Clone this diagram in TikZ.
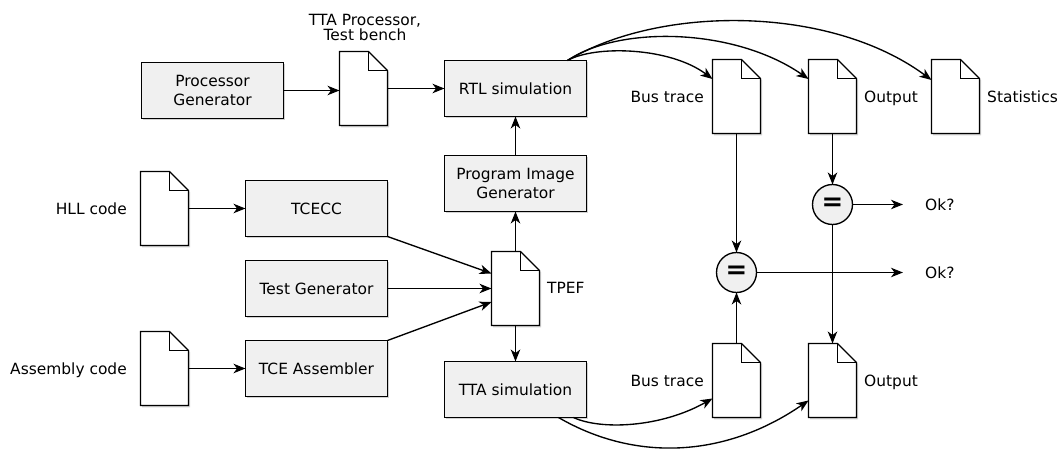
\documentclass[tikz,border=0pt]{standalone}
\usepackage{fontspec}
\setmainfont{DejaVu Sans}
\usetikzlibrary{arrows.meta,shadows}

\definecolor{boxgray}{HTML}{F0F0F0}

% a page with a folded corner, drawn around an empty node
\newcommand\docpage[3]{%
  \node[docframe] (#1) at (#2,#3) {};
  \draw[docline] (#1.north west) -- ([xshift=-19bp]#1.north east)
    -- ([yshift=-19bp]#1.north east) -- (#1.south east)
    -- (#1.south west) -- cycle;
  \draw[line] ([xshift=-19bp]#1.north east) |- ([yshift=-19bp]#1.north east);
}

\begin{document}
\begin{tikzpicture}[x=1bp,y=-1bp,
  every node/.style={font=\fontsize{15.5}{18.5}\selectfont},
  line/.style={line width=1.35bp, line join=miter},
  arr/.style={line, -{Stealth[length=12bp,width=9.5bp,inset=3.5bp]}},
  softshadow/.style={drop shadow={shadow xshift=1.6bp, shadow yshift=-1.8bp,
      opacity=0.25, fill=black!70}},
  procbox/.style={draw, line width=1.35bp, fill=boxgray, minimum width=142bp,
      minimum height=56bp, inner sep=0pt, outer sep=0pt, align=center, softshadow},
  docframe/.style={minimum width=48bp, minimum height=74bp, inner sep=0pt, outer sep=0pt},
  docline/.style={line, fill=white, softshadow},
  cmp/.style={circle, draw, line width=1.35bp, fill=boxgray, minimum size=40bp,
      inner sep=0pt, outer sep=0pt, font=\fontsize{26}{26}\selectfont\bfseries},
  lbl/.style={inner sep=0pt, text height=11.5pt, text depth=0pt}
]
\useasboundingbox (0,0) rectangle (1059,450);

% processing steps
\node[procbox] (procgen) at (212.5,90.5)  {Processor\\Generator};
\node[procbox] (rtl)     at (515.5,88.5)  {RTL simulation};
\node[procbox] (pig)     at (515.5,183.5) {Program Image\\Generator};
\node[procbox] (tcecc)   at (316.5,208.5) {TCECC};
\node[procbox] (testgen) at (316.5,288.5) {Test Generator};
\node[procbox] (tceasm)  at (316.5,368.5) {TCE Assembler};
\node[procbox] (ttasim)  at (515.5,389.5) {TTA simulation};

% files
\docpage{ttadoc}{363.5}{88.5}
\docpage{hll}{164.5}{208.5}
\docpage{asm}{164.5}{368.5}
\docpage{tpef}{515.5}{288.5}
\docpage{bus1}{736.5}{96.5}
\docpage{out1}{832.5}{96.5}
\docpage{stats}{955.5}{96.5}
\docpage{bus2}{736.5}{380.5}
\docpage{out2}{832.5}{380.5}

% comparators
\node[cmp] (eq1) at (832.5,204.5) {=};
\node[cmp] (eq2) at (736.5,272.5) {=};

% labels
\node[inner sep=0pt, align=center, font=\fontsize{15.5}{13.5}\selectfont]
  (lbltta) at (365,27.5) {TTA Processor,\\Test bench};
\node[lbl, anchor=east] (lblhll)  at (127,209) {HLL code};
\node[lbl, anchor=east] (lblasm)  at (127,369) {Assembly code};
\node[lbl, anchor=west] (lbltpef) at (547,288) {TPEF};
\node[lbl, anchor=east] (lblbus1) at (704,97) {Bus trace};
\node[lbl, anchor=west] (lblout1) at (864,97) {Output};
\node[lbl, anchor=west] (lblstat) at (987,97) {Statistics};
\node[lbl, anchor=east] (lblbus2) at (704,381) {Bus trace};
\node[lbl, anchor=west] (lblout2) at (864,381) {Output};
\node[lbl, anchor=west] (ok1) at (925,204.5) {Ok?};
\node[lbl, anchor=west] (ok2) at (925,272.5) {Ok?};

% straight connectors
\draw[arr] (procgen.east) -- (ttadoc.west |- procgen.east);
\draw[arr] (ttadoc.east |- rtl.west) -- (rtl.west);
\draw[arr] (hll.east) -- (tcecc.west |- hll.east);
\draw[arr] (asm.east) -- (tceasm.west |- asm.east);
\draw[arr] (tcecc.south east) -- ([yshift=15bp]tpef.west);
\draw[arr] (testgen.east) -- (tpef.west);
\draw[arr] (tceasm.north east) -- ([yshift=-13.5bp]tpef.west);
\draw[arr] (tpef.north) -- (pig.south);
\draw[arr] (pig.north) -- (rtl.south);
\draw[arr] (tpef.south) -- (ttasim.north);
\draw[arr] (bus1.south) -- (eq2.north);
\draw[arr] (bus2.north) -- (eq2.south);
\draw[arr] (out1.south) -- (eq1.north);
\draw[arr] (eq1.south) -- (out2.north);
\draw[arr] (eq1.east) -- ([xshift=-22bp]ok1.west);
\draw[arr] (eq2.east) -- ([xshift=-22bp]ok2.west);

% curved connectors out of the simulators
\coordinate (rtlout) at ([xshift=-19bp]rtl.north east);
\draw[arr] (rtlout) .. controls (595,45) and (670,47) .. ([yshift=17.5bp]bus1.west);
\draw[arr] (rtlout) .. controls (620,25) and (735,28) .. ([yshift=17.5bp]out1.west);
\draw[arr] (rtlout) .. controls (660,5) and (830,5) .. ([yshift=16.5bp]stats.west);

\coordinate (ttaoutA) at ([xshift=-13bp]ttasim.south east);
\coordinate (ttaoutB) at ([xshift=-28bp]ttasim.south east);
\draw[arr] (ttaoutA) .. controls (600,430) and (660,428) .. ([yshift=-18bp]bus2.west);
\draw[arr] (ttaoutB) .. controls (635,462) and (725,458) .. ([yshift=-20bp]out2.west);
\end{tikzpicture}
\end{document}
